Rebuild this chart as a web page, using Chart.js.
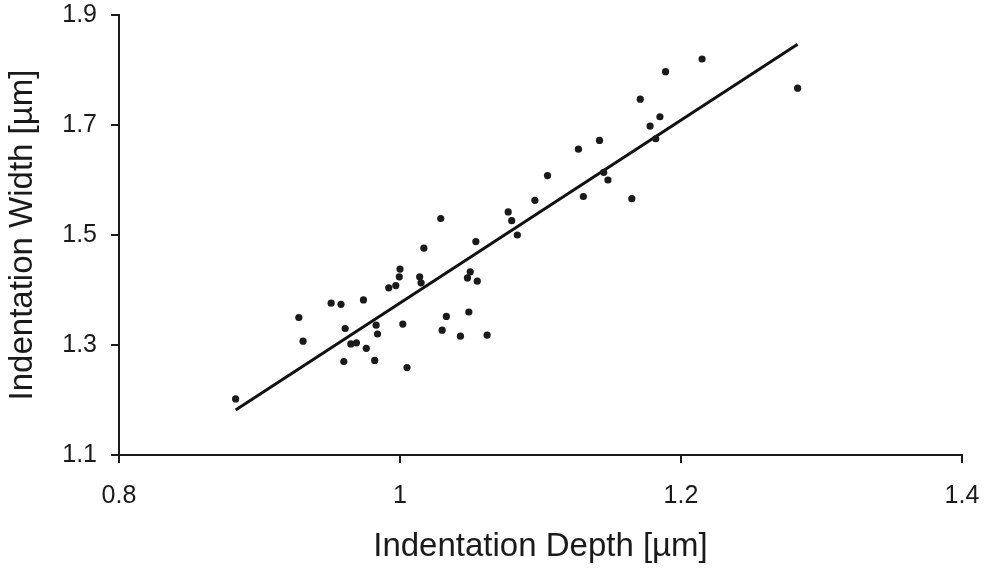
<!DOCTYPE html>
<html>
<head>
<meta charset="utf-8">
<script src="https://cdn.jsdelivr.net/npm/chart.js@4"></script>
<style>
  body { margin: 0; background: #fff; }
  #wrap { width: 985px; height: 570px; }
</style>
</head>
<body>
<div id="wrap"><canvas id="chart" width="985" height="570"></canvas></div>
<script>
const depth = [0.883, 0.928, 0.931, 0.951, 0.958, 0.974, 0.961, 0.965, 0.969, 0.976,
  0.960, 0.982, 0.983, 0.984, 1.002, 1.005, 0.992, 0.997, 0.9995, 1.000,
  1.014, 1.015, 1.017, 1.029, 1.033, 1.030, 1.043, 1.049, 1.062, 1.050,
  1.048, 1.055, 1.054, 1.077, 1.0795, 1.0835, 1.096, 1.105, 1.127, 1.142,
  1.1305, 1.145, 1.148, 1.165, 1.171, 1.178, 1.185, 1.182, 1.189, 1.215, 1.283];
const width = [1.202, 1.350, 1.307, 1.376, 1.374, 1.382, 1.330, 1.302, 1.304, 1.294,
  1.270, 1.272, 1.336, 1.320, 1.338, 1.259, 1.404, 1.408, 1.424, 1.438,
  1.424, 1.413, 1.476, 1.530, 1.352, 1.327, 1.316, 1.360, 1.318, 1.433,
  1.422, 1.416, 1.488, 1.542, 1.526, 1.500, 1.563, 1.608, 1.656, 1.672,
  1.570, 1.614, 1.600, 1.566, 1.747, 1.698, 1.715, 1.675, 1.797, 1.820, 1.767];

// trend line ends
const fitDepth = [0.883, 1.283];
const fitWidth = [1.182, 1.847];

const xTicks = [0.8, 1, 1.2, 1.4];
const yTicks = [1.1, 1.3, 1.5, 1.7, 1.9];

const ink = "#1a1a1a";
const fontFamily = "'Liberation Sans', Arial, Helvetica, sans-serif";

const points = depth.map((d, i) => ({ x: d, y: width[i] }));
const fit = fitDepth.map((d, i) => ({ x: d, y: fitWidth[i] }));

new Chart(document.getElementById("chart"), {
  type: "scatter",
  data: {
    datasets: [
      {
        data: points,
        pointRadius: 3.6,
        pointBorderWidth: 0,
        backgroundColor: ink,
        borderColor: ink
      },
      {
        data: fit,
        showLine: true,
        pointRadius: 0,
        borderColor: "#111",
        borderWidth: 3,
        fill: false
      }
    ]
  },
  options: {
    responsive: false,
    animation: false,
    events: [],
    layout: { padding: 0 },
    plugins: { legend: { display: false }, tooltip: { enabled: false } },
    scales: {
      x: {
        type: "linear",
        min: 0.8,
        max: 1.4,
        afterFit: s => {
          s.height = 115;
          s.paddingLeft = 0;
          s.paddingRight = 23;
        },
        afterBuildTicks: s => { s.ticks = xTicks.map(v => ({ value: v })); },
        grid: { drawOnChartArea: false, drawTicks: true, tickLength: 8, color: ink, lineWidth: 2 },
        border: { display: true, color: ink, width: 2 },
        ticks: {
          padding: 18,
          color: ink,
          font: { family: fontFamily, size: 25 },
          callback: v => String(Number(v.toFixed(1)))
        },
        title: {
          display: true,
          text: "Indentation Depth [µm]",
          color: ink,
          font: { family: fontFamily, size: 33 },
          padding: { top: 0, bottom: 3 }
        }
      },
      y: {
        type: "linear",
        min: 1.1,
        max: 1.9,
        afterFit: s => {
          s.width = 119;
          s.paddingTop = 15;
          s.paddingBottom = 0;
        },
        afterBuildTicks: s => { s.ticks = yTicks.map(v => ({ value: v })); },
        grid: { drawOnChartArea: false, drawTicks: true, tickLength: 8, color: ink, lineWidth: 2 },
        border: { display: true, color: ink, width: 2 },
        ticks: {
          padding: 14,
          color: ink,
          font: { family: fontFamily, size: 25 },
          callback: v => v.toFixed(1)
        },
        title: {
          display: true,
          text: "Indentation Width [µm]",
          color: ink,
          font: { family: fontFamily, size: 33 },
          padding: { top: 3, bottom: 0 }
        }
      }
    }
  }
});
</script>
</body>
</html>
